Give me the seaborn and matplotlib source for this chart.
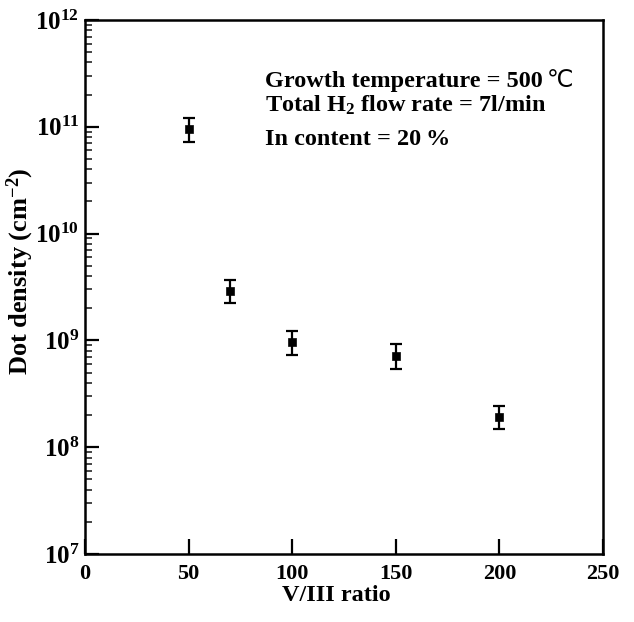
import matplotlib
matplotlib.use("Agg")
import matplotlib.pyplot as plt
import seaborn as sns
import numpy as np
import pandas as pd
from matplotlib.ticker import LogLocator, NullLocator

# data
vIII_ratio = [50, 70, 100, 150, 200]
dot_density = [0.95e11, 2.9e9, 0.97e9, 7.2e8, 1.93e8]
err_upper = [1.21e11, 3.65e9, 1.22e9, 9.2e8, 2.43e8]
err_lower = [7.2e10, 2.25e9, 7.3e8, 5.4e8, 1.47e8]
x_ticks = [0, 50, 100, 150, 200, 250]
y_decades = [1e7, 1e8, 1e9, 1e10, 1e11, 1e12]
y_tick_labels = ["$10^{7}$", "$10^{8}$", "$10^{9}$", "$10^{10}$", "$10^{11}$", "$10^{12}$"]
annotations = ["Growth temperature = 500", "Total H$_2$ flow rate = 7l/min", "In content = 20\u2009%"]
temp_unit = "\u2103"

sns.set_theme(style="white")
plt.rcParams['font.family'] = ['Liberation Serif', 'DejaVu Sans']
plt.rcParams['font.weight'] = 'bold'
plt.rcParams['mathtext.fontset'] = 'custom'
plt.rcParams['mathtext.rm'] = 'Liberation Serif:bold'
plt.rcParams['mathtext.it'] = 'Liberation Serif:bold'
plt.rcParams['mathtext.bf'] = 'Liberation Serif:bold'

df = pd.DataFrame({"ratio": vIII_ratio, "density": dot_density})

fig = plt.figure(figsize=(6.34, 6.22), dpi=100)
ax = fig.add_axes([85/634, 1-554/622, (603-85)/634, (554-20)/622])

yerr = np.array([np.array(dot_density) - np.array(err_lower),
                 np.array(err_upper) - np.array(dot_density)])
ax.errorbar(vIII_ratio, dot_density, yerr=yerr, fmt='none', ecolor='black',
            elinewidth=1.6, capsize=4.5, capthick=1.6, zorder=2)
sns.scatterplot(data=df, x="ratio", y="density", marker='s', s=36, color='black',
                edgecolor='black', ax=ax, zorder=3)

ax.set_yscale('log')
ax.set_xlim(0, 250)
ax.set_ylim(1e7, 1e12)
ax.set_xticks(x_ticks)
ax.set_xticklabels([str(t) for t in x_ticks], fontsize=16, fontweight='bold')
ax.xaxis.set_minor_locator(NullLocator())
ax.set_yticks(y_decades)
ax.set_yticklabels(y_tick_labels, fontsize=18)
ax.yaxis.set_minor_locator(LogLocator(base=10, subs=np.arange(2, 10), numticks=20))

ax.tick_params(axis='x', which='major', direction='in', length=11, width=1.6, pad=7,
               bottom=True, top=False, colors='black')
ax.tick_params(axis='y', which='major', direction='in', length=10, width=1.6, pad=4,
               left=True, right=False, colors='black')
ax.tick_params(axis='y', which='minor', direction='in', length=5, width=1.2,
               left=True, right=False)

for sp in ax.spines.values():
    sp.set_color('black')
    sp.set_linewidth(1.8)
    sp.set_visible(True)

ax.set_xlabel("V/III ratio", fontsize=17.5, fontweight='bold', color='black')
ax.xaxis.set_label_coords(0.486, -0.058)
ax.set_ylabel("Dot density (cm$^{-2}$)", fontsize=19, fontweight='bold', color='black')
ax.yaxis.set_label_coords(-0.095, 0.53)

ys = [0.8745, 0.828, 0.766]
texts = []
for txt, yy in zip(annotations, ys):
    texts.append(ax.text(0.347, yy, txt, transform=ax.transAxes, fontsize=17.5,
                         fontweight='bold', color='black', ha='left', va='baseline'))
ax.annotate(temp_unit, xy=(0.347, ys[0]), xycoords='axes fraction',
            xytext=(203, 0), textcoords='offset points', fontsize=17,
            fontweight='normal', family=['DejaVu Sans'], color='black',
            ha='left', va='baseline')

fig.savefig("out.png", dpi=100, facecolor='white')
